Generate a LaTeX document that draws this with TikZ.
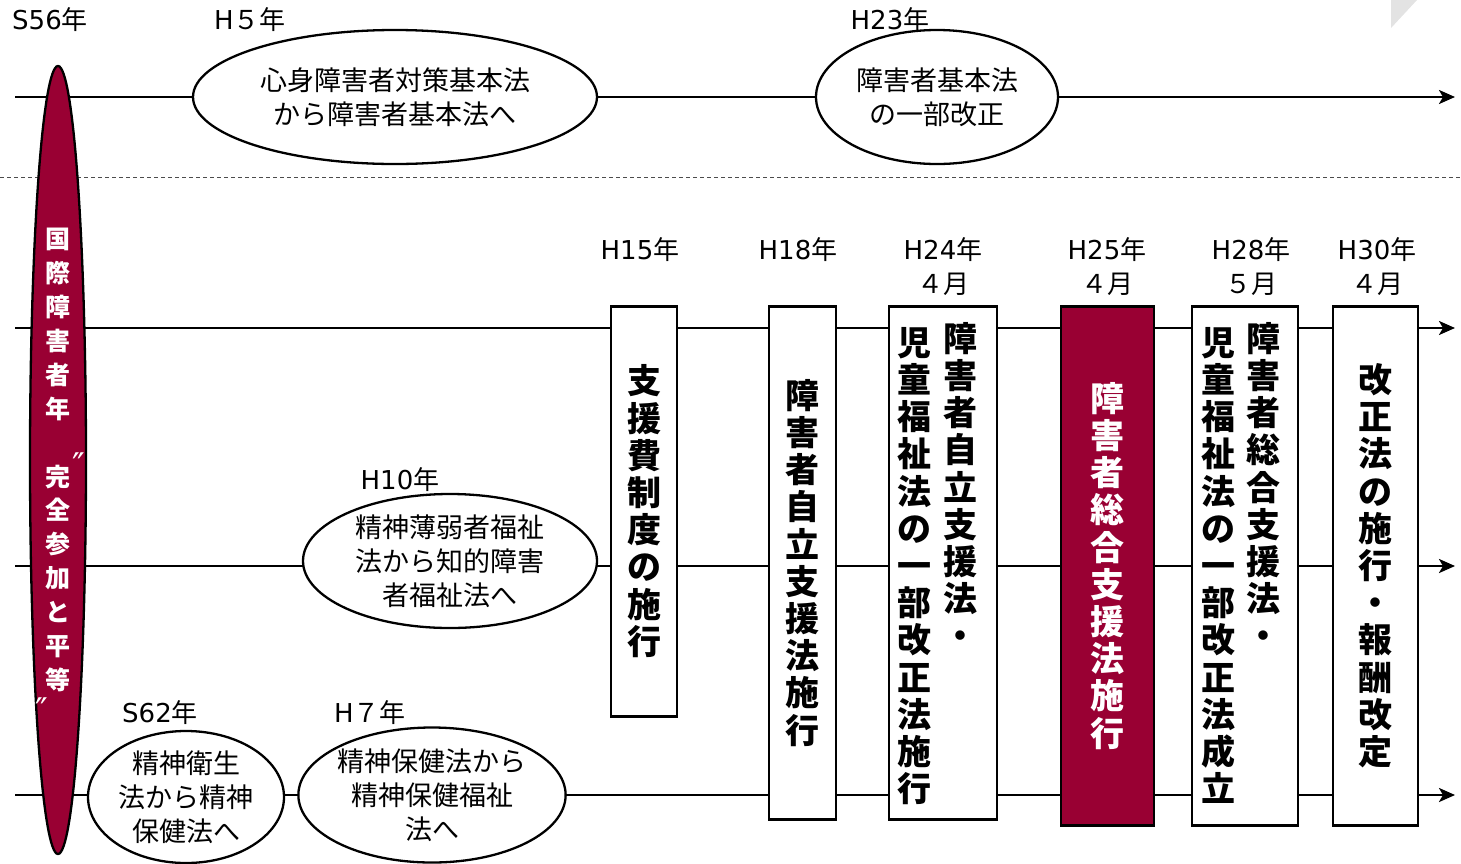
\documentclass[tikz,border=0pt]{standalone}
\usepackage{fontspec}
\setmainfont{Noto Sans CJK JP}
\newfontfamily\latfont{DejaVu Sans}
\usetikzlibrary{shapes.geometric,arrows.meta,backgrounds}
\definecolor{jred}{HTML}{990033}
\newcommand\yr[1]{{\latfont #1}年}
\tikzset{
  timeline/.style={line width=2.5pt, -{Stealth[length=16pt,width=14pt,inset=4pt]}},
  lawoval/.style={ellipse, draw, line width=2.3pt, fill=white, inner sep=0pt, align=center, font=\fontsize{27}{34}\selectfont},
  yearlabel/.style={align=center, inner sep=0pt, font=\fontsize{26}{34}\selectfont},
  lawbox/.style={rectangle, draw, line width=2.5pt, fill=white, inner sep=0pt, anchor=north, align=center, font=\fontsize{34}{37.2}\selectfont\bfseries},
  vcol/.style={align=center, inner sep=0pt, anchor=north, font=\fontsize{34}{37.2}\selectfont\bfseries},
  quotemark/.style={white, inner sep=0pt, font=\fontsize{34}{34}\selectfont\latfont},
}
\begin{document}
\begin{tikzpicture}[x=1pt, y=-1pt]
  \useasboundingbox (0,0) rectangle (1461,863);
  \fill [gray!22] (1391,0) -- (1417,0) -- (1391,28) -- cycle;

  % time lines
  \coordinate (topS) at (15,97);   \coordinate (topE) at (1455,97);
  \coordinate (lnAS) at (15,328);  \coordinate (lnAE) at (1455,328);
  \coordinate (lnBS) at (15,566);  \coordinate (lnBE) at (1455,566);
  \coordinate (lnCS) at (15,795);  \coordinate (lnCE) at (1455,795);
  \coordinate (dashS) at (0,177);  \coordinate (dashE) at (1461,177);

  \draw [line width=1pt, gray!60!black, dash pattern=on 4pt off 3pt] (dashS) -- (dashE);

  % upper row
  \node [lawoval, minimum width=404, minimum height=134] (kihon) at (395,97) {心身障害者対策基本法\\から障害者基本法へ};
  \node [lawoval, minimum width=242, minimum height=134] (kaisei) at (937,97) {障害者基本法\\の一部改正};
  \node [yearlabel] (yS56) at (50,20) {\yr{S56}};
  \node [yearlabel] (yH5) at (250,20) {{\latfont H}５年};
  \node [yearlabel] (yH23) at (890,20) {\yr{H23}};

  % lower ovals
  \node [lawoval, minimum width=294, minimum height=134] (chiteki) at (450,561) {精神薄弱者福祉\\法から知的障害\\者福祉法へ};
  \node [lawoval, minimum width=196, minimum height=132] (eisei) at (186,797) {精神衛生\\法から精神\\保健法へ};
  \node [lawoval, minimum width=266, minimum height=135] (hoken) at (432,795) {精神保健法から\\精神保健福祉\\法へ};
  \node [yearlabel] (yH10) at (400,480) {\yr{H10}};
  \node [yearlabel] (yS62) at (160,713) {\yr{S62}};
  \node [yearlabel] (yH7) at (370,713) {{\latfont H}７年};

  % vertical boxes
  \node [lawbox, minimum width=66, minimum height=410] (shienhi) at (644,305) {支\\援\\費\\制\\度\\の\\施\\行};
  \node [lawbox, minimum width=67, minimum height=513] (jiritsu) at (802.5,305) {障\\害\\者\\自\\立\\支\\援\\法\\施\\行};
  \node [lawbox, minimum width=108, minimum height=513] (h24box) at (943,305) {};
  \node [vcol] (h24R) at (960,322) {障\\害\\者\\自\\立\\支\\援\\法\\・};
  \node [vcol] (h24L) at (914,327) {児\\童\\福\\祉\\法\\の\\一\\部\\改\\正\\法\\施\\行};
  \node [lawbox, fill=jred, text=white, minimum width=93, minimum height=519] (sogo) at (1107.5,305) {障\\害\\者\\総\\合\\支\\援\\法\\施\\行};
  \node [lawbox, minimum width=106, minimum height=519] (h28box) at (1245,305) {};
  \node [vcol] (h28R) at (1263,322) {障\\害\\者\\総\\合\\支\\援\\法\\・};
  \node [vcol] (h28L) at (1218,327) {児\\童\\福\\祉\\法\\の\\一\\部\\改\\正\\法\\成\\立};
  \node [lawbox, minimum width=85, minimum height=519] (hoshu) at (1375.5,305) {改\\正\\法\\の\\施\\行\\・\\報\\酬\\改\\定};

  \node [yearlabel] (yH15) at (640,250) {\yr{H15}};
  \node [yearlabel] (yH18) at (798,250) {\yr{H18}};
  \node [yearlabel] (yH24) at (943,267) {\yr{H24}\\４月};
  \node [yearlabel] (yH25) at (1107,267) {\yr{H25}\\４月};
  \node [yearlabel] (yH28) at (1251,267) {\yr{H28}\\５月};
  \node [yearlabel] (yH30) at (1377,267) {\yr{H30}\\４月};

  % year of disabled persons
  \node [ellipse, draw, line width=2.3pt, fill=jred, text=white, inner sep=0pt, minimum width=56, minimum height=788, align=center, font=\fontsize{25}{33.9}\selectfont\bfseries] (kokusai) at (58,460) {国\\際\\障\\害\\者\\年\\\mbox{}\\完\\全\\参\\加\\と\\平\\等};
  \node [quotemark] (qOpen) at (79,465) {″};
  \node [quotemark] (qClose) at (42,710) {″};

  \begin{pgfonlayer}{background}
    \draw [timeline] (topS) -- (topE);
    \draw [timeline] (lnAS) -- (lnAE);
    \draw [timeline] (lnBS) -- (lnBE);
    \draw [timeline] (lnCS) -- (lnCE);
  \end{pgfonlayer}
\end{tikzpicture}
\end{document}
